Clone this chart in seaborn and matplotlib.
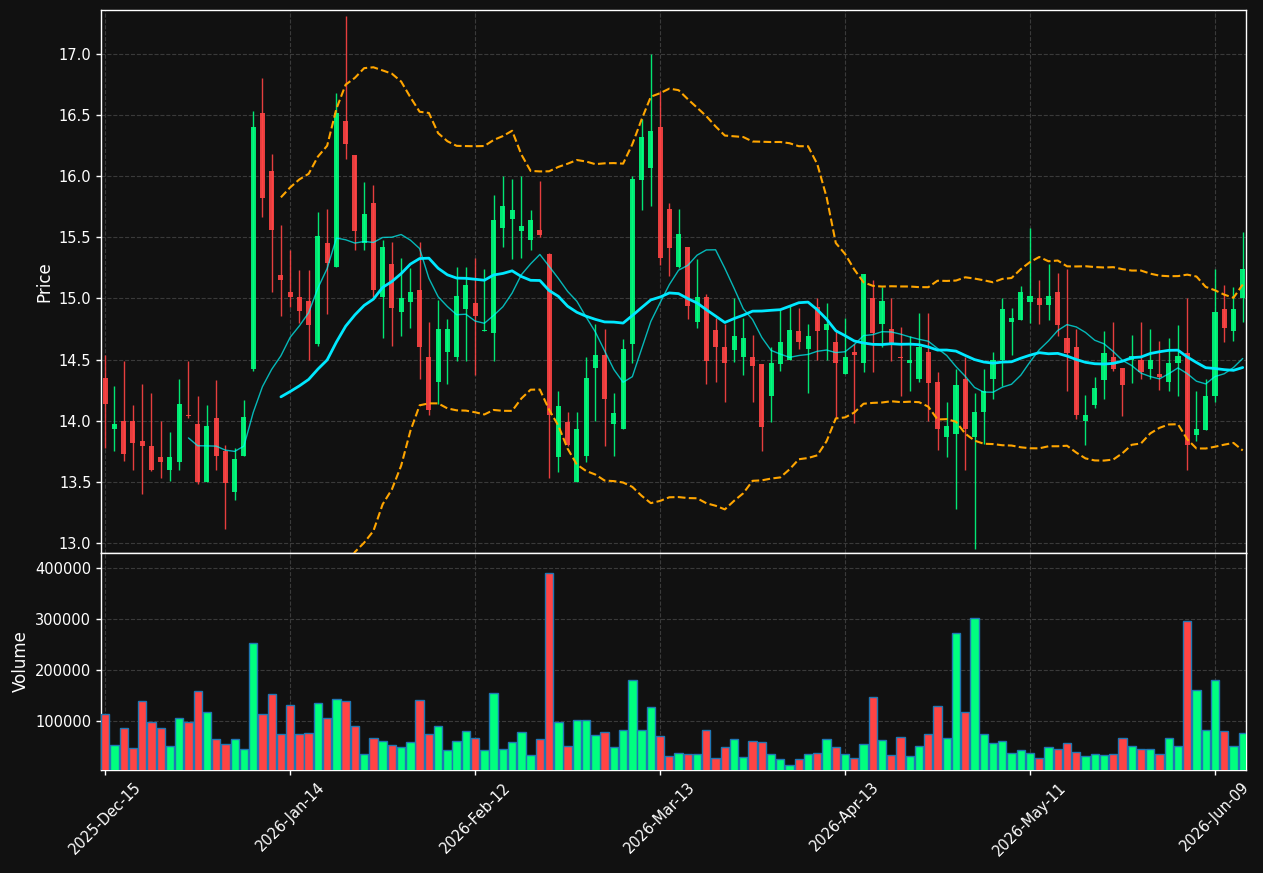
import numpy as np
import pandas as pd
import matplotlib
matplotlib.use('Agg')
import matplotlib.pyplot as plt
import seaborn as sns

# daily OHLCV, one entry per trading day
opens = [14.35, 13.93, 14.00, 14.00, 13.83, 13.79, 13.70, 13.60, 13.66, 14.05,
         13.97, 13.50, 14.02, 13.75, 13.42, 13.71, 14.42, 16.52, 16.04, 15.19,
         15.05, 15.01, 14.98, 14.63, 15.45, 15.26, 16.45, 16.17, 15.45, 15.78,
         15.01, 15.28, 14.89, 14.97, 15.07, 14.52, 14.32, 14.56, 14.52, 14.91,
         14.96, 14.73, 14.72, 15.58, 15.65, 15.55, 15.48, 15.56, 15.36, 13.70,
         13.99, 13.50, 13.71, 14.43, 14.54, 13.97, 13.93, 14.63, 15.97, 16.07,
         16.40, 15.73, 15.26, 15.42, 14.81, 15.01, 14.74, 14.60, 14.58, 14.52,
         14.52, 14.46, 14.20, 14.46, 14.50, 14.73, 14.59, 14.93, 14.74, 14.64,
         14.38, 14.56, 14.47, 15.00, 14.79, 14.75, 14.52, 14.47, 14.34, 14.56,
         14.32, 13.87, 13.89, 14.34, 13.87, 14.07, 14.34, 14.50, 14.81, 14.82,
         14.97, 15.00, 14.95, 15.05, 14.68, 14.60, 14.00, 14.13, 14.33, 14.52,
         14.43, 14.50, 14.50, 14.42, 14.38, 14.32, 14.47, 14.55, 13.88, 13.92,
         14.20, 14.91, 14.73, 15.00]
highs = [14.54, 14.28, 14.49, 14.13, 14.30, 14.23, 14.00, 13.91, 14.34, 14.49,
         14.20, 14.13, 14.33, 13.80, 13.78, 14.17, 16.53, 16.80, 16.18, 15.60,
         15.40, 15.23, 15.23, 15.71, 15.73, 16.68, 17.31, 16.17, 15.95, 15.93,
         15.48, 15.46, 15.33, 15.25, 15.46, 14.81, 14.99, 14.83, 15.26, 15.26,
         15.33, 15.24, 15.85, 16.00, 15.98, 16.00, 15.72, 15.96, 15.37, 14.24,
         14.07, 14.07, 14.52, 14.79, 14.75, 14.23, 14.67, 16.00, 16.47, 17.00,
         16.70, 15.78, 15.73, 15.42, 15.32, 15.04, 14.84, 14.79, 15.00, 14.84,
         14.70, 14.46, 14.60, 14.91, 14.94, 14.92, 14.79, 15.00, 14.96, 14.74,
         14.84, 14.63, 15.20, 15.15, 15.09, 15.00, 14.77, 14.69, 14.88, 14.88,
         14.40, 14.15, 14.42, 14.52, 14.23, 14.42, 14.56, 15.00, 14.92, 15.10,
         15.58, 15.15, 15.28, 15.21, 15.24, 14.75, 14.21, 14.36, 14.73, 14.81,
         14.43, 14.70, 14.81, 14.75, 14.65, 14.68, 14.78, 15.00, 14.24, 14.34,
         15.24, 15.11, 15.09, 15.54]
lows = [13.78, 13.75, 13.67, 13.60, 13.40, 13.59, 13.53, 13.51, 13.60, 14.02,
        13.48, 13.50, 13.60, 13.11, 13.35, 13.71, 14.41, 15.67, 15.05, 14.86,
        14.93, 14.80, 14.50, 14.61, 14.87, 15.26, 16.14, 15.40, 15.40, 15.01,
        14.68, 14.61, 14.69, 14.76, 14.34, 14.05, 14.14, 14.30, 14.49, 14.49,
        14.37, 14.73, 14.49, 15.42, 15.32, 15.33, 15.40, 15.50, 13.53, 13.58,
        13.79, 13.50, 13.66, 14.00, 13.79, 13.71, 13.93, 14.47, 15.72, 15.76,
        15.27, 15.18, 15.25, 14.83, 14.76, 14.30, 14.32, 14.15, 14.48, 14.37,
        14.15, 13.75, 13.99, 14.41, 14.50, 14.59, 14.23, 14.50, 14.50, 14.02,
        14.38, 13.98, 14.40, 14.40, 14.60, 14.49, 14.20, 14.24, 14.32, 14.00,
        13.76, 13.70, 13.28, 13.60, 12.95, 13.81, 14.18, 14.28, 14.54, 14.82,
        14.80, 14.79, 14.82, 14.69, 14.24, 14.01, 13.80, 14.10, 14.18, 14.41,
        14.04, 14.31, 14.34, 14.34, 14.25, 14.24, 14.20, 13.60, 13.83, 13.92,
        14.15, 14.64, 14.65, 14.81]
closes = [14.14, 13.97, 13.73, 13.82, 13.79, 13.60, 13.66, 13.70, 14.14, 14.04,
          13.50, 13.96, 13.71, 13.49, 13.69, 14.03, 16.40, 15.82, 15.56, 15.15,
          15.01, 14.90, 14.78, 15.51, 15.29, 16.52, 16.26, 15.55, 15.69, 15.07,
          15.42, 14.92, 15.00, 15.05, 14.60, 14.09, 14.75, 14.75, 15.02, 15.11,
          14.86, 14.74, 15.64, 15.76, 15.72, 15.59, 15.64, 15.52, 14.05, 14.12,
          13.80, 13.93, 14.35, 14.54, 14.18, 14.06, 14.59, 15.98, 16.32, 16.37,
          15.33, 15.41, 15.53, 14.94, 15.01, 14.49, 14.60, 14.47, 14.69, 14.68,
          14.45, 13.95, 14.47, 14.64, 14.74, 14.64, 14.69, 14.73, 14.79, 14.47,
          14.52, 14.54, 15.20, 14.72, 14.98, 14.62, 14.51, 14.50, 14.60, 14.31,
          13.93, 13.96, 14.29, 13.93, 14.07, 14.24, 14.50, 14.91, 14.84, 15.05,
          15.02, 14.95, 15.02, 14.78, 14.55, 14.05, 14.05, 14.27, 14.55, 14.42,
          14.29, 14.53, 14.40, 14.50, 14.36, 14.47, 14.53, 13.80, 13.93, 14.20,
          14.89, 14.76, 14.91, 15.24]
volumes = [113700, 52900, 86300, 47100, 139200, 98000, 86300, 51000, 105900, 98000,
           158800, 117600, 64700, 54900, 64700, 45100, 252900, 113700, 152900, 74500,
           131400, 74500, 76500, 135300, 105900, 143100, 139200, 90200, 35300, 66700,
           60800, 52900, 49000, 58800, 141200, 74500, 90200, 43100, 60800, 80400,
           66700, 43100, 154900, 45100, 58800, 78400, 33300, 64700, 390200, 98000,
           51000, 102000, 102000, 72500, 78400, 49000, 82400, 180400, 82400, 127500,
           70600, 31400, 37300, 35300, 35300, 82400, 27500, 49000, 64700, 29400,
           60800, 58800, 35300, 25500, 13700, 25500, 35300, 37300, 64700, 49000,
           35300, 27500, 54900, 147100, 62700, 33300, 68600, 31400, 51000, 74500,
           129400, 66700, 272500, 117600, 302000, 74500, 56900, 60800, 37300, 43100,
           37300, 27500, 49000, 45100, 56900, 39200, 31400, 35300, 33300, 35300,
           66700, 51000, 45100, 45100, 35300, 66700, 51000, 296100, 160800, 82400,
           180400, 80400, 51000, 76500]
start_date = '2025-12-15'
holidays = ['2025-12-25', '2026-01-01', '2026-01-19', '2026-02-16',
            '2026-04-03', '2026-05-25']

bg = '#111111'
up_col = '#00ff7f'
down_col = '#ff4444'
fg = 'white'

sns.set_theme(style='dark')
plt.rcParams.update({
    'font.family': ['DejaVu Sans'],
    'font.size': 10.5,
    'figure.facecolor': bg,
    'axes.facecolor': bg,
    'axes.edgecolor': fg,
    'axes.labelcolor': fg,
    'xtick.color': fg,
    'ytick.color': fg,
    'text.color': fg,
})

dates = pd.bdate_range(start_date, periods=len(closes), freq='C', holidays=holidays)
df = pd.DataFrame({'Open': opens, 'High': highs, 'Low': lows,
                   'Close': closes, 'Volume': volumes}, index=dates)
df['idx'] = np.arange(len(df))
df['dir'] = np.where(df['Close'] >= df['Open'], 'up', 'down')
df['ma10'] = df['Close'].rolling(10).mean()
df['ma20'] = df['Close'].rolling(20).mean()
sd = df['Close'].rolling(20).std(ddof=0)
df['bb_up'] = df['ma20'] + 2 * sd
df['bb_lo'] = df['ma20'] - 2 * sd

fig = plt.figure(figsize=(12.63, 8.73), dpi=100)
ax1 = fig.add_axes([0.080, 0.3666, 0.9065, 0.622])
ax2 = fig.add_axes([0.080, 0.118, 0.9065, 0.2486], sharex=ax1)

# candles
cols = [up_col if d == 'up' else down_col for d in df['dir']]
ax1.vlines(df['idx'], df['Low'], df['High'], colors=cols, linewidth=1, alpha=0.9, zorder=3)
ax1.bar(df['idx'], df['Close'] - df['Open'], bottom=df['Open'], width=0.55,
        color=cols, edgecolor=cols, linewidth=0, alpha=0.9, zorder=4)

# moving averages and bollinger bands
sns.lineplot(x=df['idx'], y=df['ma10'], ax=ax1, color='#00ffff', alpha=0.7, linewidth=1, zorder=5)
sns.lineplot(x=df['idx'], y=df['ma20'], ax=ax1, color='#00e8ff', linewidth=2, zorder=5)
sns.lineplot(x=df['idx'], y=df['bb_up'], ax=ax1, color='orange', linestyle='--', linewidth=1.5, zorder=5)
sns.lineplot(x=df['idx'], y=df['bb_lo'], ax=ax1, color='orange', linestyle='--', linewidth=1.5, zorder=5)

# volume
sns.barplot(data=df, x='idx', y='Volume', hue='dir', palette={'up': up_col, 'down': down_col},
            dodge=False, native_scale=True, width=0.9, saturation=1, errorbar=None,
            edgecolor='#1f77b4', linewidth=1, legend=False, ax=ax2, zorder=3)

for ax in (ax1, ax2):
    ax.set_facecolor(bg)
    ax.grid(True, linestyle='--', color='#3a3a3a', linewidth=0.8)
    for sp in ax.spines.values():
        sp.set_color(fg)
        sp.set_linewidth(1)
    ax.tick_params(axis='both', colors=fg, length=3.5, width=1, labelsize=10.5,
                   left=True, bottom=True)

ax1.set_xlim(-0.45, 123.35)
ax1.set_ylim(12.918, 17.36)
ax1.set_yticks(np.arange(13.0, 17.01, 0.5))
ax1.set_ylabel('Price')
ax1.set_xlabel('')
ax1.tick_params(axis='x', labelbottom=False, length=0)

ax2.set_ylim(4100, 429200)
ax2.set_yticks([100000, 200000, 300000, 400000])
ax2.set_yticklabels(['100000', '200000', '300000', '400000'])
ax2.set_ylabel('Volume')
ax2.set_xlabel('')
tick_pos = list(range(0, len(df), 20))
ax2.set_xticks(tick_pos)
ax2.set_xticklabels([dates[i].strftime('%Y-%b-%d') for i in tick_pos], rotation=45, ha='center')
ax2.set_xlim(-0.45, 123.35)

fig.savefig('out.png', dpi=100, facecolor=bg)
